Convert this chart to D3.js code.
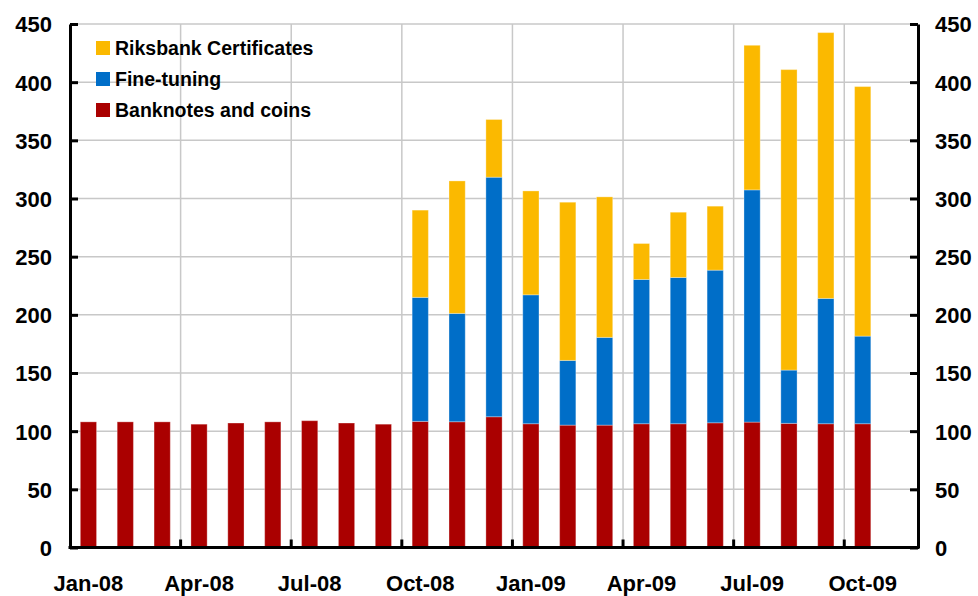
<!DOCTYPE html>
<html>
<head>
<meta charset="utf-8">
<script src="https://cdn.jsdelivr.net/npm/d3@7"></script>
<style>
  body { margin: 0; background: #fff; }
  svg text { font-family: "Liberation Sans", Arial, sans-serif; font-weight: bold; fill: #000; }
</style>
</head>
<body>
<svg id="chart" width="978" height="596"></svg>
<script>
// months on the x axis
const months = ["Jan-08","Feb-08","Mar-08","Apr-08","May-08","Jun-08","Jul-08","Aug-08","Sep-08",
  "Oct-08","Nov-08","Dec-08","Jan-09","Feb-09","Mar-09","Apr-09","May-09","Jun-09",
  "Jul-09","Aug-09","Sep-09","Oct-09"];
const tickMonths = ["Jan-08","Apr-08","Jul-08","Oct-08","Jan-09","Apr-09","Jul-09","Oct-09"];

// SEK billion
const banknotes = [108, 108, 108, 106, 107, 108, 109, 107, 106,
  108.4, 108.1, 112.4, 106.4, 105.2, 105.2, 106.4, 106.4, 107.2, 107.8, 106.7, 106.4, 106.4];
const fineTuning = [0, 0, 0, 0, 0, 0, 0, 0, 0,
  106.6, 93.1, 205.9, 110.8, 55.6, 75.4, 124, 125.7, 131.2, 199.6, 45.8, 107.7, 75.3];
const certificates = [0, 0, 0, 0, 0, 0, 0, 0, 0,
  75, 113.9, 49.6, 89.3, 136, 120.8, 30.9, 56.1, 55, 124.3, 258.3, 228.5, 214.5];

const seriesNames = ["Banknotes and coins", "Fine-tuning", "Riksbank Certificates"];
const colors = { "Banknotes and coins": "#aa0000", "Fine-tuning": "#006ec8", "Riksbank Certificates": "#fbb900" };
const yTicks = [0, 50, 100, 150, 200, 250, 300, 350, 400, 450];

const mLeft = 70, mRight = 918, mTop = 24, mBottom = 547.5;
const step = (mRight - mLeft) / 23;   // one empty slot after Oct-09

const svg = d3.select("#chart");

const x = d3.scaleBand().domain(months)
  .range([mLeft, mLeft + step * months.length])
  .paddingInner(0.56).paddingOuter(0.28);
const y = d3.scaleLinear().domain([0, 450]).range([mBottom, mTop]);
const gap = (x.step() - x.bandwidth()) / 2;
const boundary = m => x(m) - gap;

// grid
svg.append("g").selectAll("line")
  .data(yTicks.filter(d => d > 0)).enter().append("line")
  .attr("x1", mLeft).attr("x2", mRight)
  .attr("y1", d => y(d)).attr("y2", d => y(d))
  .attr("stroke", "#c8c8c8").attr("stroke-width", 1.5);
svg.append("g").selectAll("line")
  .data(tickMonths.slice(1)).enter().append("line")
  .attr("x1", d => boundary(d)).attr("x2", d => boundary(d))
  .attr("y1", mTop).attr("y2", mBottom)
  .attr("stroke", "#c8c8c8").attr("stroke-width", 1.5);

// stacked bars
const rows = months.map((m, i) => ({
  month: m,
  "Banknotes and coins": banknotes[i],
  "Fine-tuning": fineTuning[i],
  "Riksbank Certificates": certificates[i]
}));
const stack = d3.stack().keys(seriesNames)(rows);

svg.append("g").selectAll("g")
  .data(stack).enter().append("g")
  .attr("fill", d => colors[d.key])
  .selectAll("rect")
  .data(d => d.filter(p => p[1] > p[0])).enter().append("rect")
  .attr("x", d => x(d.data.month))
  .attr("width", x.bandwidth())
  .attr("y", d => y(d[1]))
  .attr("height", d => y(d[0]) - y(d[1]))
  .attr("stroke", "rgba(255,255,255,0.3)").attr("stroke-width", 1);

// y axes
const yLeft = d3.axisLeft(y).tickValues(yTicks).tickSizeInner(-8).tickSizeOuter(0).tickPadding(18);
const yRight = d3.axisRight(y).tickValues(yTicks).tickSizeInner(-8).tickSizeOuter(0).tickPadding(17);

function styleAxis(g) {
  g.select(".domain").attr("stroke", "#000").attr("stroke-width", 3);
  g.selectAll(".tick line").attr("stroke", "#000").attr("stroke-width", 3);
  g.selectAll(".tick text").style("font-size", "22px").attr("dy", "0.36em");
}
svg.append("g").attr("transform", `translate(${mLeft},0)`).call(yLeft).call(styleAxis);
svg.append("g").attr("transform", `translate(${mRight},0)`).call(yRight).call(styleAxis);

// x axis
const xAxis = d3.axisBottom(x).tickValues(tickMonths).tickSize(0).tickPadding(30);
const gx = svg.append("g").attr("transform", `translate(0,${mBottom})`).call(xAxis);
gx.select(".domain").remove();
gx.selectAll(".tick text").style("font-size", "22px").attr("dy", "0.71em").attr("y", 28);
svg.append("line")
  .attr("x1", mLeft - 1.5).attr("x2", mRight + 1.5)
  .attr("y1", mBottom).attr("y2", mBottom)
  .attr("stroke", "#000").attr("stroke-width", 3);
svg.append("g").selectAll("line")
  .data(tickMonths.slice(1)).enter().append("line")
  .attr("x1", d => boundary(d)).attr("x2", d => boundary(d))
  .attr("y1", mBottom).attr("y2", mBottom - 8)
  .attr("stroke", "#000").attr("stroke-width", 3);

// legend
const legendItems = ["Riksbank Certificates", "Fine-tuning", "Banknotes and coins"];
const lg = svg.append("g").selectAll("g")
  .data(legendItems).enter().append("g")
  .attr("transform", (d, i) => `translate(96,${48 + i * 31})`);
lg.append("rect").attr("x", 0).attr("y", -7).attr("width", 14).attr("height", 14)
  .attr("fill", d => colors[d]);
lg.append("text").attr("x", 19).attr("dy", "0.36em")
  .style("font-size", "19.5px").text(d => d);
</script>
</body>
</html>
